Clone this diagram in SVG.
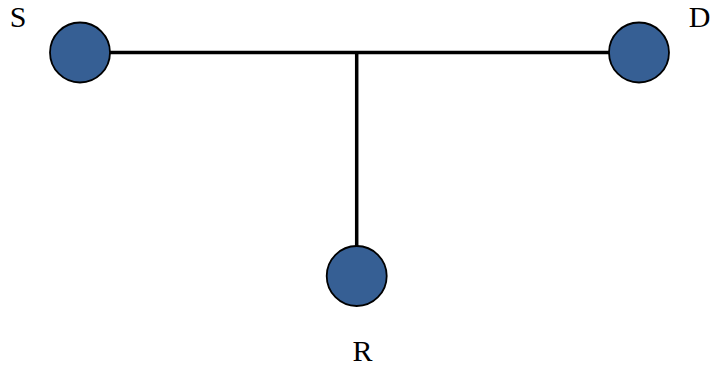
<svg xmlns="http://www.w3.org/2000/svg" width="715" height="367" viewBox="0 0 715 367">
<style>
.node{fill:#365f94;stroke:#000;stroke-width:1.8}
.lbl{font-family:"Liberation Serif",serif;font-size:30px;fill:#000}
.edge{stroke:#000;stroke-width:3.5;fill:none}
</style>
<rect width="715" height="367" fill="#fff"/>
<g id="connectors">
<line class="edge" x1="80" y1="52.5" x2="639" y2="52.5"/>
<line class="edge" x1="356.7" y1="52.5" x2="356.7" y2="276"/>
</g>
<g id="S">
<circle class="node" cx="80" cy="52.5" r="30"/>
<text class="lbl" x="18" y="27" text-anchor="middle">S</text>
</g>
<g id="D">
<circle class="node" cx="639" cy="52.5" r="30"/>
<text class="lbl" x="699.5" y="27" text-anchor="middle">D</text>
</g>
<g id="R">
<circle class="node" cx="356.7" cy="276" r="30"/>
<text class="lbl" x="362.5" y="361" text-anchor="middle">R</text>
</g>
</svg>
